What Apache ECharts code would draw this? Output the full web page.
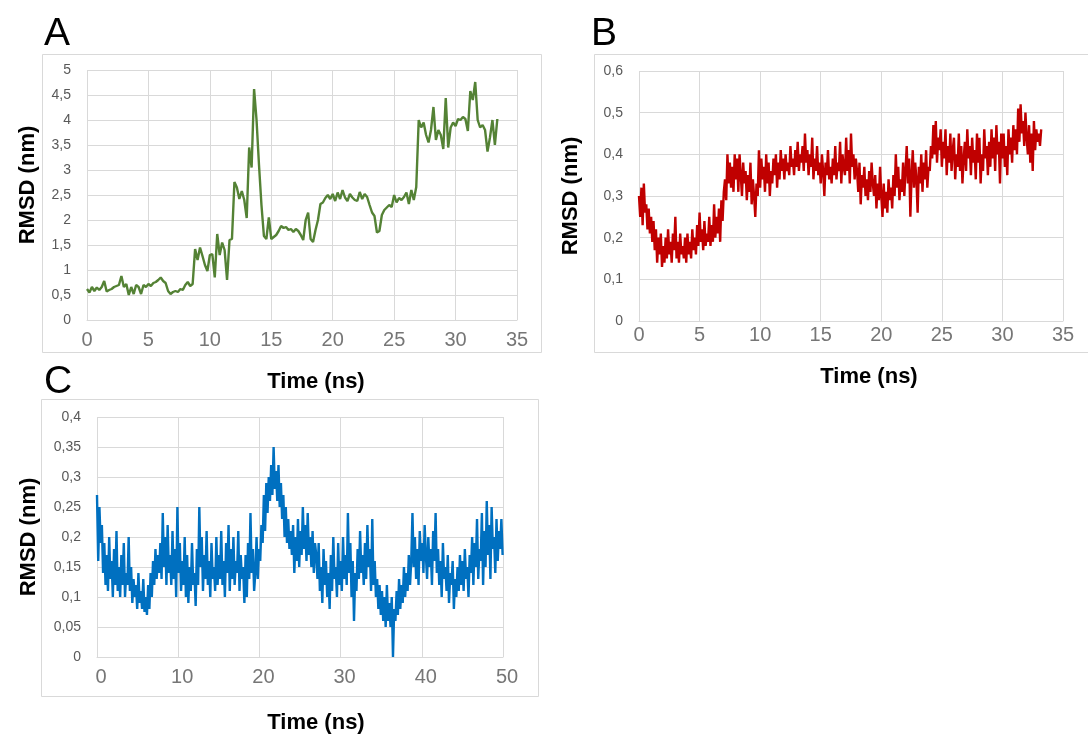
<!DOCTYPE html>
<html>
<head>
<meta charset="utf-8">
<script src="https://cdn.jsdelivr.net/npm/echarts@6/dist/echarts.min.js"></script>
<style>
html,body{margin:0;padding:0;background:#fff;}
#chart{width:1088px;height:738px;}
</style>
</head>
<body>
<div id="chart"></div>
<script>
// ---------- DATA ----------
const panelLetters = ['A', 'B', 'C'];
const xAxisTitle = 'Time (ns)';
const yAxisTitle = 'RMSD (nm)';

// sampling step (ns) of each trajectory
const timeStepA = 0.2;
const timeStepB = 0.1;
const timeStepC = 0.15;

// Panel A RMSD (nm)
const rmsdA = [
  0.62,0.55,0.66,0.58,0.65,0.60,0.66,0.78,0.57,0.60,
  0.62,0.66,0.68,0.70,0.88,0.66,0.72,0.50,0.66,0.52,
  0.70,0.66,0.52,0.70,0.66,0.72,0.68,0.74,0.76,0.80,
  0.85,0.78,0.74,0.58,0.52,0.56,0.58,0.56,0.62,0.60,
  0.70,0.76,0.68,0.72,1.42,1.20,1.45,1.28,1.10,0.98,
  1.30,1.32,0.85,1.72,1.30,1.55,1.40,0.80,1.60,1.62,
  2.76,2.65,2.42,2.58,2.40,2.04,3.45,3.05,4.62,4.00,
  3.10,2.30,1.68,1.62,2.05,1.62,1.66,1.70,1.78,1.88,
  1.84,1.86,1.80,1.82,1.76,1.82,1.78,1.70,1.60,2.00,
  2.15,1.62,1.56,1.80,2.00,2.32,2.35,2.44,2.50,2.42,
  2.52,2.38,2.55,2.42,2.60,2.45,2.38,2.52,2.45,2.40,
  2.38,2.56,2.42,2.52,2.46,2.30,2.15,2.08,1.75,1.78,
  2.10,2.20,2.25,2.30,2.26,2.50,2.35,2.44,2.40,2.46,
  2.55,2.32,2.60,2.40,2.66,4.00,3.85,3.95,3.70,3.55,
  3.80,4.26,3.60,3.80,3.70,3.42,4.44,3.45,3.85,3.95,
  3.88,4.02,4.00,4.06,4.02,3.78,4.58,4.40,4.76,4.00,
  3.85,3.90,3.80,3.37,3.65,4.00,3.50,4.02
];

// Panel B RMSD (nm)
const rmsdB = [
  0.30,0.25,0.32,0.23,0.33,0.26,0.28,0.22,0.27,0.21,
  0.25,0.19,0.24,0.17,0.22,0.14,0.20,0.16,0.21,0.13,
  0.18,0.14,0.20,0.15,0.22,0.16,0.19,0.14,0.21,0.17,
  0.25,0.15,0.19,0.14,0.21,0.16,0.18,0.15,0.20,0.14,
  0.21,0.16,0.19,0.15,0.22,0.17,0.20,0.16,0.23,0.18,
  0.26,0.19,0.22,0.17,0.24,0.18,0.21,0.19,0.25,0.18,
  0.23,0.19,0.28,0.20,0.25,0.21,0.27,0.19,0.29,0.24,
  0.31,0.34,0.29,0.40,0.33,0.38,0.32,0.37,0.31,0.40,
  0.34,0.39,0.31,0.40,0.35,0.30,0.38,0.33,0.36,0.29,
  0.35,0.31,0.38,0.28,0.34,0.30,0.25,0.33,0.30,0.41,
  0.32,0.39,0.34,0.37,0.31,0.40,0.33,0.38,0.30,0.36,
  0.33,0.39,0.35,0.40,0.32,0.38,0.34,0.41,0.36,0.39,
  0.34,0.40,0.36,0.38,0.35,0.42,0.37,0.39,0.35,0.41,
  0.37,0.43,0.36,0.40,0.38,0.42,0.36,0.45,0.38,0.41,
  0.35,0.40,0.37,0.44,0.34,0.39,0.36,0.42,0.35,0.38,
  0.33,0.40,0.36,0.30,0.38,0.35,0.41,0.34,0.37,0.33,
  0.39,0.35,0.42,0.34,0.38,0.36,0.43,0.33,0.40,0.37,
  0.35,0.44,0.36,0.41,0.33,0.45,0.37,0.40,0.34,0.39,
  0.36,0.31,0.38,0.28,0.35,0.32,0.37,0.30,0.34,0.29,
  0.36,0.31,0.38,0.33,0.30,0.35,0.27,0.33,0.29,0.37,
  0.30,0.25,0.33,0.27,0.31,0.26,0.34,0.29,0.32,0.27,
  0.35,0.30,0.40,0.32,0.37,0.29,0.34,0.31,0.38,0.30,
  0.36,0.42,0.33,0.39,0.25,0.35,0.41,0.32,0.38,0.34,
  0.26,0.37,0.33,0.40,0.31,0.38,0.34,0.41,0.32,0.37,
  0.36,0.42,0.39,0.47,0.40,0.48,0.38,0.44,0.41,0.46,
  0.37,0.43,0.39,0.46,0.35,0.42,0.38,0.45,0.36,0.41,
  0.44,0.34,0.40,0.37,0.45,0.36,0.42,0.33,0.39,0.43,
  0.36,0.46,0.39,0.42,0.35,0.44,0.38,0.41,0.34,0.45,
  0.38,0.44,0.33,0.40,0.36,0.46,0.39,0.42,0.35,0.43,
  0.37,0.46,0.39,0.44,0.36,0.47,0.40,0.43,0.33,0.45,
  0.39,0.45,0.37,0.42,0.35,0.46,0.40,0.44,0.38,0.47,
  0.41,0.46,0.40,0.51,0.43,0.52,0.45,0.48,0.42,0.50,
  0.44,0.40,0.47,0.38,0.45,0.36,0.48,0.41,0.46,0.43,
  0.45,0.42,0.46
];

// Panel C RMSD (nm)
const rmsdC = [
  0.27,0.16,0.25,0.19,0.22,0.14,0.19,0.12,0.17,0.11,0.20,0.13,0.16,0.10,0.18,0.12,0.21,0.11,0.15,0.10,
  0.17,0.12,0.19,0.10,0.14,0.12,0.20,0.11,0.15,0.09,0.13,0.10,0.12,0.08,0.14,0.09,0.11,0.08,0.13,0.075,
  0.10,0.07,0.12,0.08,0.14,0.10,0.16,0.12,0.18,0.13,0.17,0.14,0.19,0.13,0.24,0.15,0.20,0.12,0.22,0.14,
  0.17,0.12,0.21,0.13,0.18,0.10,0.25,0.14,0.19,0.11,0.16,0.12,0.20,0.10,0.17,0.09,0.15,0.11,0.19,0.12,
  0.14,0.085,0.18,0.12,0.25,0.15,0.20,0.11,0.17,0.13,0.21,0.12,0.16,0.10,0.19,0.13,0.15,0.11,0.20,0.12,
  0.17,0.13,0.21,0.12,0.16,0.10,0.19,0.14,0.22,0.11,0.18,0.13,0.20,0.12,0.16,0.14,0.21,0.11,0.17,0.13,
  0.15,0.09,0.17,0.10,0.19,0.13,0.24,0.14,0.18,0.11,0.14,0.20,0.13,0.18,0.16,0.22,0.19,0.27,0.21,0.29,
  0.24,0.30,0.26,0.32,0.27,0.35,0.28,0.31,0.26,0.32,0.25,0.29,0.23,0.27,0.20,0.25,0.19,0.23,0.18,0.21,
  0.17,0.22,0.14,0.20,0.16,0.23,0.15,0.21,0.17,0.25,0.18,0.22,0.16,0.24,0.17,0.20,0.15,0.21,0.14,0.19,
  0.17,0.13,0.19,0.11,0.15,0.09,0.18,0.12,0.16,0.10,0.14,0.08,0.17,0.11,0.20,0.13,0.15,0.10,0.19,0.12,
  0.16,0.11,0.20,0.13,0.17,0.12,0.24,0.14,0.19,0.10,0.16,0.06,0.14,0.11,0.18,0.13,0.21,0.14,0.17,0.12,
  0.19,0.13,0.22,0.15,0.18,0.11,0.23,0.12,0.16,0.10,0.13,0.08,0.12,0.07,0.11,0.06,0.10,0.05,0.12,0.06,
  0.09,0.05,0.10,0.00,0.08,0.06,0.11,0.07,0.13,0.08,0.12,0.09,0.15,0.10,0.14,0.11,0.17,0.12,0.16,0.24,
  0.15,0.20,0.13,0.18,0.12,0.21,0.16,0.19,0.14,0.22,0.17,0.13,0.20,0.15,0.18,0.12,0.21,0.16,0.24,0.14,
  0.18,0.12,0.16,0.10,0.19,0.13,0.15,0.11,0.17,0.09,0.14,0.12,0.16,0.08,0.13,0.10,0.15,0.11,0.17,0.12,
  0.16,0.11,0.18,0.13,0.15,0.10,0.17,0.14,0.20,0.12,0.19,0.15,0.23,0.13,0.18,0.16,0.24,0.12,0.21,0.15,
  0.26,0.17,0.22,0.13,0.25,0.18,0.20,0.14,0.23,0.16,0.21,0.18,0.23,0.17
];

// tick labels
const xTickLabelsA = ['0','5','10','15','20','25','30','35'];
const yTickLabelsA = ['0','0,5','1','1,5','2','2,5','3','3,5','4','4,5','5'];
const xTickLabelsB = ['0','5','10','15','20','25','30','35'];
const yTickLabelsB = ['0','0,1','0,2','0,3','0,4','0,5','0,6'];
const xTickLabelsC = ['0','10','20','30','40','50'];
const yTickLabelsC = ['0','0,05','0,1','0,15','0,2','0,25','0,3','0,35','0,4'];

// ---------- CHART ----------
const FONT = "'Liberation Sans', Arial, sans-serif";
const GRID_COLOR = '#d9d9d9';
const toPairs = (vals, step) => vals.map((v, i) => [Math.round(i * step * 1000) / 1000, v]);

function xAxisCfg(idx, min, max, interval, labels, nameGap, labelMargin, namePadLeft, labelPadLeft) {
  return {
    type: 'value', gridIndex: idx, min, max, interval,
    name: xAxisTitle, nameLocation: 'middle', nameGap,
    nameTextStyle: { fontFamily: FONT, fontWeight: 'bold', fontSize: 22, color: '#000', padding: [0, 0, 0, namePadLeft] },
    axisLine: { show: true, lineStyle: { color: GRID_COLOR, width: 1 } },
    axisTick: { show: false },
    axisLabel: { fontFamily: FONT, fontSize: 20, color: '#767676', margin: labelMargin,
      padding: [0, 0, 0, labelPadLeft],
      formatter: (v) => labels[Math.round((v - min) / interval)] },
    splitLine: { show: true, lineStyle: { color: GRID_COLOR, width: 1 } }
  };
}
function yAxisCfg(idx, min, max, interval, labels, nameGap, namePadLeft) {
  return {
    type: 'value', gridIndex: idx, min, max, interval,
    name: yAxisTitle, nameLocation: 'middle', nameGap, nameRotate: 90,
    nameTextStyle: { fontFamily: FONT, fontWeight: 'bold', fontSize: 22, color: '#000', padding: [0, 0, 0, namePadLeft] },
    axisLine: { show: false },
    axisTick: { show: false },
    axisLabel: { fontFamily: FONT, fontSize: 14, color: '#595959', margin: 16,
      formatter: (v) => labels[Math.round((v - min) / interval)] },
    splitLine: { show: true, lineStyle: { color: GRID_COLOR, width: 1 } }
  };
}

const chart = echarts.init(document.getElementById('chart'), null, { renderer: 'canvas' });
chart.setOption({
  animation: false,
  backgroundColor: '#fff',
  graphic: [
    { type: 'rect', shape: { x: 42.5, y: 54.5, width: 499, height: 298 }, style: { fill: 'none', stroke: GRID_COLOR, lineWidth: 1 }, z: -1 },
    { type: 'rect', shape: { x: 594.5, y: 54.5, width: 520, height: 298 }, style: { fill: 'none', stroke: GRID_COLOR, lineWidth: 1 }, z: -1 },
    { type: 'rect', shape: { x: 41.5, y: 399.5, width: 497, height: 297 }, style: { fill: 'none', stroke: GRID_COLOR, lineWidth: 1 }, z: -1 },
    { type: 'text', left: 44, top: 15, style: { text: panelLetters[0], font: "39px " + FONT, fill: '#000' } },
    { type: 'text', left: 591, top: 15, style: { text: panelLetters[1], font: "39px " + FONT, fill: '#000' } },
    { type: 'text', left: 44, top: 363, style: { text: panelLetters[2], font: "39px " + FONT, fill: '#000' } }
  ],
  grid: [
    { left: 87, top: 70, width: 430, height: 250 },
    { left: 639, top: 71, width: 424, height: 250 },
    { left: 97, top: 417, width: 406, height: 240 }
  ],
  xAxis: [
    xAxisCfg(0, 0, 35, 5, xTickLabelsA, 51, 10, 28, 0),
    xAxisCfg(1, 0, 35, 5, xTickLabelsB, 45, 4, 36, 0),
    xAxisCfg(2, 0, 50, 10, xTickLabelsC, 55, 10, 32, 8)
  ],
  yAxis: [
    yAxisCfg(0, 0, 5, 0.5, yTickLabelsA, 48, 20),
    yAxisCfg(1, 0, 0.6, 0.1, yTickLabelsB, 57, 0),
    yAxisCfg(2, 0, 0.4, 0.05, yTickLabelsC, 57, 0)
  ],
  series: [
    { type: 'line', xAxisIndex: 0, yAxisIndex: 0, data: toPairs(rmsdA, timeStepA), showSymbol: false,
      lineStyle: { color: '#548235', width: 2.4 }, itemStyle: { color: '#548235' } },
    { type: 'line', xAxisIndex: 1, yAxisIndex: 1, data: toPairs(rmsdB, timeStepB), showSymbol: false,
      lineStyle: { color: '#C00000', width: 2.4 }, itemStyle: { color: '#C00000' } },
    { type: 'line', xAxisIndex: 2, yAxisIndex: 2, data: toPairs(rmsdC, timeStepC), showSymbol: false,
      lineStyle: { color: '#0070C0', width: 2.4 }, itemStyle: { color: '#0070C0' } }
  ]
});
</script>
</body>
</html>
